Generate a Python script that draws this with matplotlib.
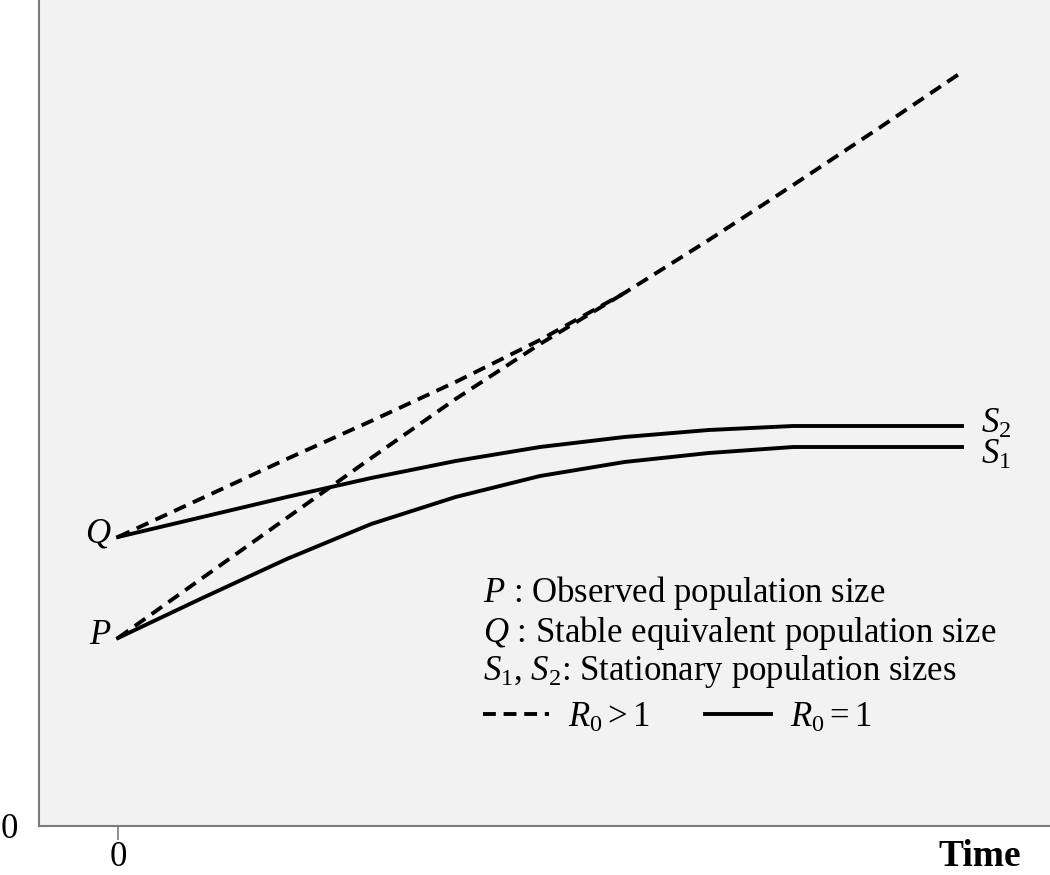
import numpy as np
import matplotlib
matplotlib.use("Agg")
import matplotlib.pyplot as plt

plt.rcParams['font.family'] = ['Liberation Serif', 'DejaVu Serif']
plt.rcParams['mathtext.fontset'] = 'custom'
plt.rcParams['mathtext.rm'] = 'Liberation Serif'
plt.rcParams['mathtext.it'] = 'Liberation Serif:italic'

# time steps (arbitrary units)
t = [0, 1, 2, 3, 4, 5, 6, 7, 8, 9, 10]
# R0 > 1, starting from Q (stable equivalent)
q_growth = [2.89, 3.28, 3.67, 4.05, 4.44, 4.86, 5.33, 5.86, 6.41, 6.97, 7.54]
# R0 > 1, starting from P (observed), joins the Q curve
t_p_growth = [0, 1, 2, 3, 4, 5, 6]
p_growth = [1.88, 2.48, 3.08, 3.68, 4.27, 4.82, 5.33]
# R0 = 1, stationary
q_stat = [2.89, 3.09, 3.29, 3.48, 3.65, 3.79, 3.89, 3.96, 4.00, 4.00, 4.00]
p_stat = [1.88, 2.28, 2.67, 3.02, 3.29, 3.50, 3.64, 3.73, 3.79, 3.79, 3.79]

W, H = 1050, 875
FS = 25
fig = plt.figure(figsize=(W / 100, H / 100), dpi=100)
ax = fig.add_axes([39 / W, (H - 826) / H, (W - 39) / W, 826 / H])
ax.set_facecolor('#f2f2f2')

lw = 2.8
dash = (0, (3.3, 2.0))
ax.plot(t, q_growth, color='black', lw=lw, linestyle=dash, label=r'$R_0 > 1$')
ax.plot(t_p_growth, p_growth, color='black', lw=lw, linestyle=dash)
ax.plot(t, q_stat, color='black', lw=lw, label=r'$R_0 = 1$')
ax.plot(t, p_stat, color='black', lw=lw)

ax.set_xlim((39 - 118) / 84.4, (1050 - 118) / 84.4)
ax.set_ylim(0, 8.26)

for side in ['top', 'right']:
    ax.spines[side].set_visible(False)
for side in ['left', 'bottom']:
    ax.spines[side].set_color('#7a7a7a')
    ax.spines[side].set_linewidth(1.5)

ax.set_xticks([0])
ax.set_xticklabels(['0'])
ax.set_yticks([0])
ax.set_yticklabels(['0'])
ax.tick_params(axis='x', length=10, width=1.2, color='#7a7a7a', labelsize=FS, pad=1)
ax.tick_params(axis='y', length=0, labelsize=FS, pad=15)

# point labels
ax.annotate('$Q$', xy=(t[0], q_stat[0]), xytext=(-5, 2), textcoords='offset points',
            ha='right', va='center', fontsize=FS)
ax.annotate('$P$', xy=(t[0], p_stat[0]), xytext=(-5, 2), textcoords='offset points',
            ha='right', va='center', fontsize=FS)
ax.annotate('$S_2$', xy=(t[-1], q_stat[-1]), xytext=(14, 1), textcoords='offset points',
            ha='left', va='center', fontsize=FS)
ax.annotate('$S_1$', xy=(t[-1], p_stat[-1]), xytext=(14, -6), textcoords='offset points',
            ha='left', va='center', fontsize=FS)

fig.text(980 / W, 1 - 857 / H, 'Time', ha='center', va='center', fontsize=27, fontweight='bold')

notes = [
    '$P$ : Observed population size',
    '$Q$ : Stable equivalent population size',
    '$S_1$, $S_2$: Stationary population sizes',
]
ys = [593, 633, 671]
for txt, y in zip(notes, ys):
    fig.text(483 / W, 1 - y / H, txt, ha='left', va='center', fontsize=FS)

ax.legend(loc='center left', bbox_to_anchor=(483 / W, 1 - 718 / H), bbox_transform=fig.transFigure,
          ncol=2, frameon=False, fontsize=FS, handlelength=1.9, handletextpad=0.55,
          columnspacing=1.6, borderpad=0, borderaxespad=0)

fig.savefig('out.png', dpi=100)
